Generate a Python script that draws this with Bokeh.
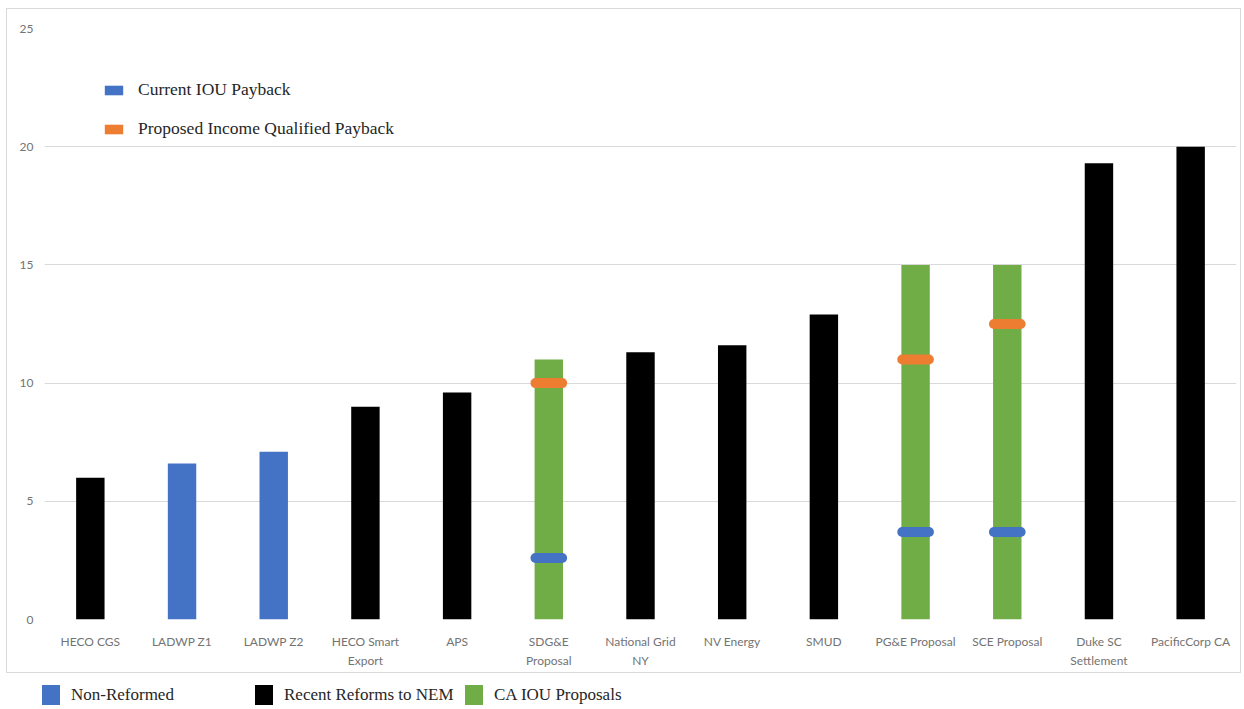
from bokeh.plotting import figure
from bokeh.models import (ColumnDataSource, Legend, LegendItem, Range1d, FactorRange, Div)
from bokeh.layouts import column
from bokeh.embed import file_html
from bokeh.resources import INLINE

# ---- data ----
categories = ["HECO CGS", "LADWP Z1", "LADWP Z2", "HECO Smart\nExport", "APS",
              "SDG&E\nProposal", "National Grid\nNY", "NV Energy", "SMUD",
              "PG&E Proposal", "SCE Proposal", "Duke SC\nSettlement", "PacificCorp CA"]
payback = [6.0, 6.6, 7.1, 9.0, 9.6, 11.0, 11.3, 11.6, 12.9, 15.0, 15.0, 19.3, 20.0]
groups = ["Recent Reforms to NEM", "Non-Reformed", "Non-Reformed", "Recent Reforms to NEM",
          "Recent Reforms to NEM", "CA IOU Proposals", "Recent Reforms to NEM",
          "Recent Reforms to NEM", "Recent Reforms to NEM", "CA IOU Proposals",
          "CA IOU Proposals", "Recent Reforms to NEM", "Recent Reforms to NEM"]
group_names = ["Non-Reformed", "Recent Reforms to NEM", "CA IOU Proposals"]
group_colors = ["#4472C4", "#000000", "#70AD47"]

proposal_cats = ["SDG&E\nProposal", "PG&E Proposal", "SCE Proposal"]
current_iou = [2.6, 3.7, 3.7]
income_qualified = [10.0, 11.0, 12.5]
marker_names = ["Current IOU Payback", "Proposed Income Qualified Payback"]
marker_colors = ["#4472C4", "#ED7D31"]

y_ticks = [0, 5, 10, 15, 20, 25]

# ---- main chart (bordered box) ----
p = figure(width=1233, height=663,
           x_range=FactorRange(*categories, range_padding=0),
           y_range=Range1d(0, 25),
           output_backend="svg", toolbar_location=None,
           min_border_left=37, min_border_right=4,
           min_border_top=19, min_border_bottom=53)
p.margin = (9, 0, 0, 7)
p.styles = {"outline": "1px solid #d9d9d9"}
p.outline_line_color = None
p.background_fill_color = "white"
p.border_fill_color = "white"

p.xgrid.grid_line_color = None
p.ygrid.grid_line_color = "#d9d9d9"
p.ygrid.grid_line_width = 1

p.yaxis.ticker = y_ticks
p.yaxis.axis_line_color = None
p.yaxis.major_tick_line_color = None
p.yaxis.minor_tick_line_color = None
p.yaxis.major_label_standoff = 5
p.yaxis.major_label_text_font = "Lato"
p.yaxis.major_label_text_font_size = "12px"
p.yaxis.major_label_text_color = "#737373"

p.xaxis.axis_line_color = None
p.xaxis.major_tick_line_color = None
p.xaxis.minor_tick_line_color = None
p.xaxis.major_label_standoff = 8
p.xaxis.major_label_text_font = "Lato"
p.xaxis.major_label_text_font_size = "12px"
p.xaxis.major_label_text_color = "#737373"
p.xaxis.major_label_text_line_height = 1.3

# ---- bars ----
bar_renderers = []
for name, color in zip(group_names, group_colors):
    idx = [i for i, g in enumerate(groups) if g == name]
    src = ColumnDataSource(dict(x=[categories[i] for i in idx],
                                top=[payback[i] for i in idx]))
    r = p.vbar(x="x", top="top", bottom=0, width=0.31, source=src,
               fill_color=color, line_color=None)
    bar_renderers.append(r)

# ---- payback markers ----
r_cur = p.rect(x=proposal_cats, y=current_iou, width=0.40, height=10,
               height_units="screen", fill_color=marker_colors[0], line_color=None,
               border_radius=5)
r_iq = p.rect(x=proposal_cats, y=income_qualified, width=0.40, height=10,
              height_units="screen", fill_color=marker_colors[1], line_color=None,
              border_radius=5)

top_legend = Legend(items=[LegendItem(label=marker_names[0], renderers=[r_cur]),
                           LegendItem(label=marker_names[1], renderers=[r_iq])],
                    location=(58, 480), orientation="vertical",
                    glyph_width=23, glyph_height=12, label_standoff=13,
                    label_height=20, spacing=18, padding=0, margin=0,
                    label_text_font="Liberation Serif", label_text_font_size="17.5px",
                    label_text_color="#262626",
                    border_line_color=None, background_fill_alpha=0)
p.add_layout(top_legend)

# ---- category legend below the box ----
item_left = [42, 255, 465]
parts = []
for name, color, x0 in zip(group_names, group_colors, item_left):
    parts.append(
        f'<span style="position:absolute;left:{x0}px;top:13px;width:18px;height:20px;'
        f'background:{color};"></span>'
        f'<span style="position:absolute;left:{x0 + 29}px;top:13px;line-height:20px;'
        f'white-space:nowrap;">{name}</span>')
legend_html = ('<div style="position:relative;width:1244px;height:37px;'
               'font-family:\'Liberation Serif\';font-size:17px;color:#262626;">'
               + "".join(parts) + '</div>')
leg = Div(text=legend_html, width=1244, height=37, margin=(0, 0, 0, 0))

layout = column(p, leg, spacing=0)
open("out.html", "w").write(file_html(layout, INLINE))
